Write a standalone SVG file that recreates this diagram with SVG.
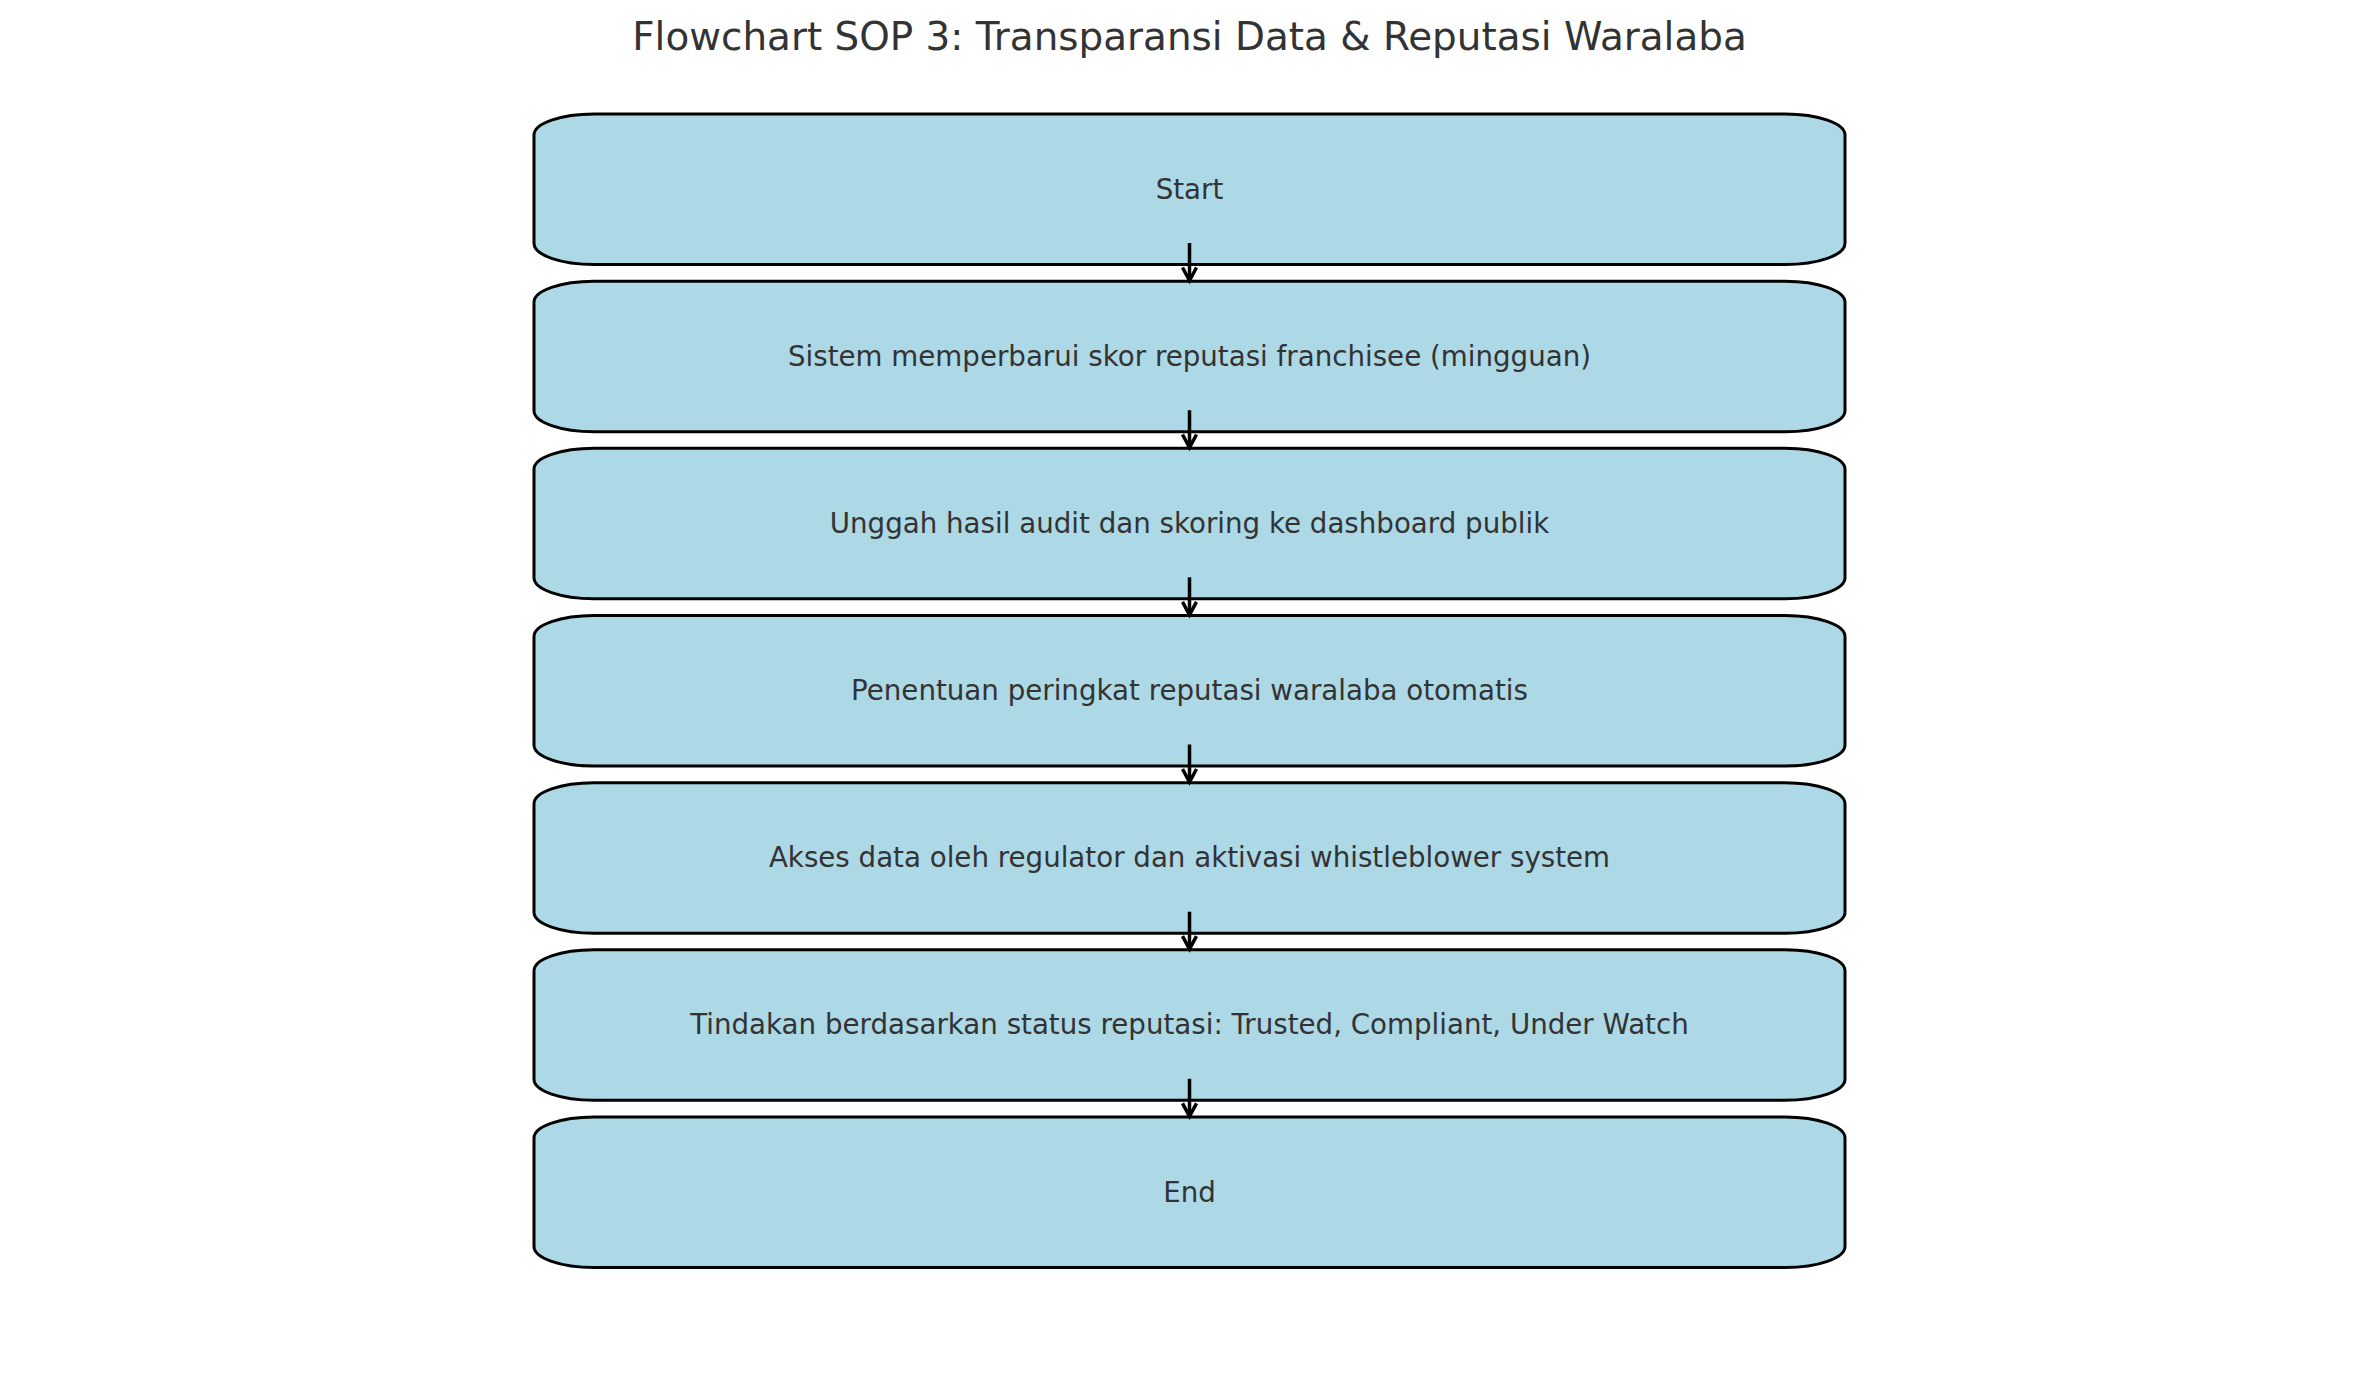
<svg xmlns="http://www.w3.org/2000/svg" width="2379" height="1380" viewBox="0 0 2379 1380">
<defs>
<style>
.box{fill:#ADD8E6;stroke:#000;stroke-width:3}
.lbl{font-family:"DejaVu Sans",sans-serif;font-size:27.7px;fill:#333;text-anchor:middle}
.title{font-family:"DejaVu Sans",sans-serif;font-size:38.9px;fill:#333;text-anchor:middle}
.conn line{stroke:#000;stroke-width:3.5}
.conn polyline{fill:none;stroke:#000;stroke-width:3.5;stroke-linejoin:miter}
</style>
</defs>
<rect width="2379" height="1380" fill="#fff"/>
<text class="title" x="1189.5" y="50">Flowchart SOP 3: Transparansi Data &amp; Reputasi Waralaba</text>
<g id="n1"><path class="box" d="M594,114 L1785,114 A60,21 0 0 1 1845,135 L1845,243.5 A60,21 0 0 1 1785,264.5 L594,264.5 A60,21 0 0 1 534,243.5 L534,135 A60,21 0 0 1 594,114 Z"/><text class="lbl" x="1189.5" y="198.5">Start</text></g>
<g id="n2"><path class="box" d="M594,281.2 L1785,281.2 A60,21 0 0 1 1845,302.2 L1845,410.7 A60,21 0 0 1 1785,431.7 L594,431.7 A60,21 0 0 1 534,410.7 L534,302.2 A60,21 0 0 1 594,281.2 Z"/><text class="lbl" x="1189.5" y="365.7">Sistem memperbarui skor reputasi franchisee (mingguan)</text></g>
<g id="n3"><path class="box" d="M594,448.3 L1785,448.3 A60,21 0 0 1 1845,469.3 L1845,577.8 A60,21 0 0 1 1785,598.8 L594,598.8 A60,21 0 0 1 534,577.8 L534,469.3 A60,21 0 0 1 594,448.3 Z"/><text class="lbl" x="1189.5" y="532.8">Unggah hasil audit dan skoring ke dashboard publik</text></g>
<g id="n4"><path class="box" d="M594,615.5 L1785,615.5 A60,21 0 0 1 1845,636.5 L1845,745 A60,21 0 0 1 1785,766 L594,766 A60,21 0 0 1 534,745 L534,636.5 A60,21 0 0 1 594,615.5 Z"/><text class="lbl" x="1189.5" y="700">Penentuan peringkat reputasi waralaba otomatis</text></g>
<g id="n5"><path class="box" d="M594,782.7 L1785,782.7 A60,21 0 0 1 1845,803.7 L1845,912.2 A60,21 0 0 1 1785,933.2 L594,933.2 A60,21 0 0 1 534,912.2 L534,803.7 A60,21 0 0 1 594,782.7 Z"/><text class="lbl" x="1189.5" y="867.2">Akses data oleh regulator dan aktivasi whistleblower system</text></g>
<g id="n6"><path class="box" d="M594,949.8 L1785,949.8 A60,21 0 0 1 1845,970.8 L1845,1079.3 A60,21 0 0 1 1785,1100.3 L594,1100.3 A60,21 0 0 1 534,1079.3 L534,970.8 A60,21 0 0 1 594,949.8 Z"/><text class="lbl" x="1189.5" y="1034.3">Tindakan berdasarkan status reputasi: Trusted, Compliant, Under Watch</text></g>
<g id="n7"><path class="box" d="M594,1117 L1785,1117 A60,21 0 0 1 1845,1138 L1845,1246.5 A60,21 0 0 1 1785,1267.5 L594,1267.5 A60,21 0 0 1 534,1246.5 L534,1138 A60,21 0 0 1 594,1117 Z"/><text class="lbl" x="1189.5" y="1201.5">End</text></g>
<g id="connectors" class="conn">
<line x1="1189.5" y1="243" x2="1189.5" y2="279.5"/><polyline points="1182.5,267.5 1189.5,280.5 1196.5,267.5"/>
<line x1="1189.5" y1="410.2" x2="1189.5" y2="446.5"/><polyline points="1182.5,434.5 1189.5,447.5 1196.5,434.5"/>
<line x1="1189.5" y1="577.3" x2="1189.5" y2="613.8"/><polyline points="1182.5,601.8 1189.5,614.8 1196.5,601.8"/>
<line x1="1189.5" y1="744.5" x2="1189.5" y2="781"/><polyline points="1182.5,769 1189.5,782 1196.5,769"/>
<line x1="1189.5" y1="911.7" x2="1189.5" y2="948.1"/><polyline points="1182.5,936.1 1189.5,949.1 1196.5,936.1"/>
<line x1="1189.5" y1="1078.8" x2="1189.5" y2="1115.3"/><polyline points="1182.5,1103.3 1189.5,1116.3 1196.5,1103.3"/>
</g>
</svg>
